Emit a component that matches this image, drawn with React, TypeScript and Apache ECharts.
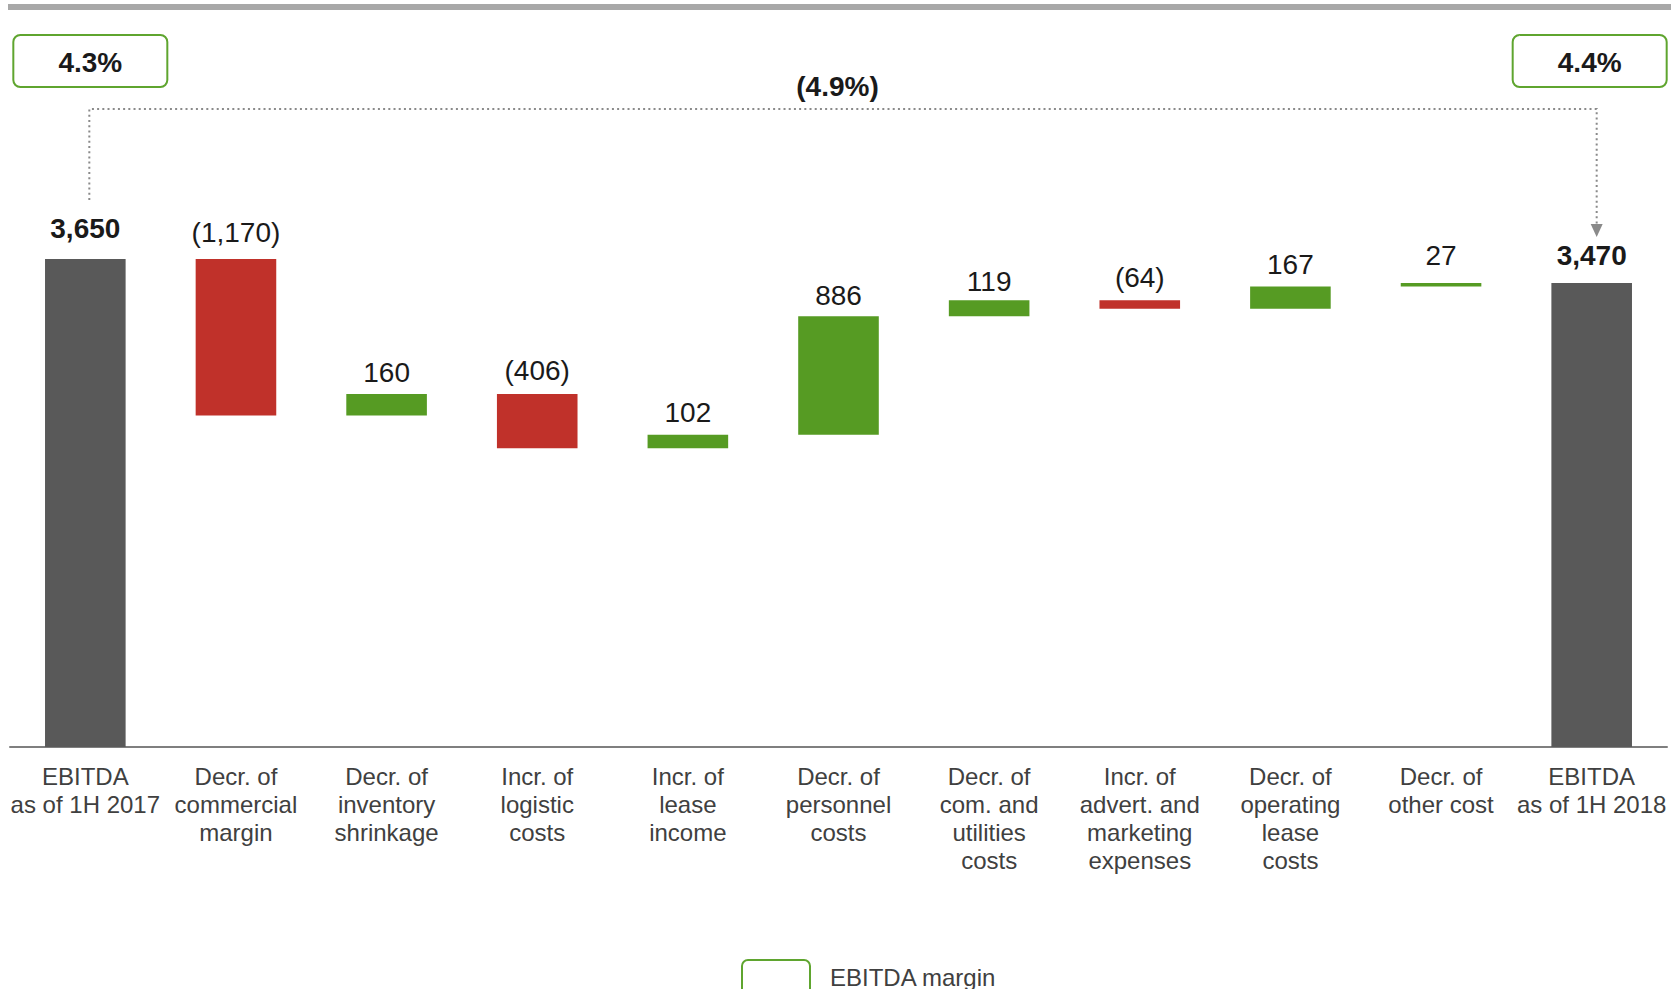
import React, { useEffect, useRef } from "react";
import * as echarts from "echarts";

const categories = [
  "EBITDA\nas of 1H 2017",
  "Decr. of\ncommercial\nmargin",
  "Decr. of\ninventory\nshrinkage",
  "Incr. of\nlogistic\ncosts",
  "Incr. of\nlease\nincome",
  "Decr. of\npersonnel\ncosts",
  "Decr. of\ncom. and\nutilities\ncosts",
  "Incr. of\nadvert. and\nmarketing\nexpenses",
  "Decr. of\noperating\nlease\ncosts",
  "Decr. of\nother cost",
  "EBITDA\nas of 1H 2018",
];
const changes = [3650, -1170, 160, -406, 102, 886, 119, -64, 167, 27, 3470];
const isTotal = [true, false, false, false, false, false, false, false, false, false, true];
const labelGaps = [17, 13, 8, 10, 8, 7, 5, 9, 8, 13, 14];
const marginStart = "4.3%";
const marginEnd = "4.4%";
const marginChange = "(4.9%)";
const legendLabel = "EBITDA margin";

const GREY = "#595959";
const RED = "#c0312a";
const GREEN = "#569b23";
const FRAME = "#5fa52f";
const FONT = "'Liberation Sans', Arial, sans-serif";

function fmt(v: number) {
  const s = Math.abs(v).toLocaleString("en-US");
  return v < 0 ? `(${s})` : s;
}

export default function App() {
  const ref = useRef<HTMLDivElement>(null);
  useEffect(() => {
    if (!ref.current) return;
    const chart = echarts.init(ref.current, null, { renderer: "svg" });
    const base: number[] = [];
    const vis: any[] = [];
    let cum = 0;
    changes.forEach((v, i) => {
      if (isTotal[i]) {
        base.push(0);
        vis.push({
          value: v,
          itemStyle: { color: GREY },
          label: { fontWeight: "bold", distance: labelGaps[i] },
        });
        cum = v;
      } else {
        const next = cum + v;
        base.push(Math.min(cum, next));
        vis.push({
          value: Math.abs(v),
          itemStyle: { color: v < 0 ? RED : GREEN },
          label: { distance: labelGaps[i] },
        });
        cum = next;
      }
    });

    chart.setOption({
      animation: false,
      textStyle: { fontFamily: FONT },
      grid: { left: 10, right: 12, top: 259, bottom: 242, containLabel: false },
      xAxis: {
        type: "category",
        data: categories,
        axisLine: { lineStyle: { color: "#7f7f7f", width: 2 } },
        axisTick: { show: false },
        axisLabel: {
          interval: 0,
          color: "#404040",
          fontSize: 24,
          lineHeight: 27.8,
          margin: 16,
          fontFamily: FONT,
        },
      },
      yAxis: { type: "value", min: 0, max: 3650, show: false, splitLine: { show: false } },
      series: [
        {
          type: "bar",
          stack: "w",
          data: base,
          itemStyle: { color: "transparent" },
          silent: true,
          barWidth: "53.5%",
        },
        {
          type: "bar",
          stack: "w",
          data: vis,
          barWidth: "53.5%",
          label: {
            show: true,
            position: "top",
            distance: 10,
            fontSize: 28,
            color: "#1a1a1a",
            fontFamily: FONT,
            formatter: (p: any) => fmt(changes[p.dataIndex]),
          },
        },
      ],
    });

    const first = chart.convertToPixel({ gridIndex: 0 }, [0, changes[0]]) as number[];
    const lastIdx = changes.length - 1;
    const last = chart.convertToPixel({ gridIndex: 0 }, [lastIdx, changes[lastIdx]]) as number[];
    const mid = chart.convertToPixel({ gridIndex: 0 }, [5, 0]) as number[];
    const lx = first[0] + 4;
    const rx = last[0] + 5;
    const lineY = 109;
    const tipY = last[1] - 46;
    const dotted = { stroke: "#8a8a8a", lineWidth: 2, lineDash: [2, 3.2] };

    chart.setOption({
      graphic: [
        { type: "rect", shape: { x: 8, y: 4, width: 1663, height: 6 }, style: { fill: "#a8a8a8" }, silent: true },
        {
          type: "rect",
          shape: { x: first[0] - 72, y: 35, width: 154, height: 52, r: 7 },
          style: { fill: "#fff", stroke: FRAME, lineWidth: 2 },
        },
        {
          type: "text",
          x: first[0] + 5,
          y: 62,
          style: { text: marginStart, font: `bold 28px ${FONT}`, fill: "#1a1a1a", align: "center", verticalAlign: "middle" },
        },
        {
          type: "rect",
          shape: { x: last[0] - 79, y: 35, width: 154, height: 52, r: 7 },
          style: { fill: "#fff", stroke: FRAME, lineWidth: 2 },
        },
        {
          type: "text",
          x: last[0] - 2,
          y: 62,
          style: { text: marginEnd, font: `bold 28px ${FONT}`, fill: "#1a1a1a", align: "center", verticalAlign: "middle" },
        },
        {
          type: "text",
          x: mid[0] - 1,
          y: 86,
          style: { text: marginChange, font: `bold 28px ${FONT}`, fill: "#1a1a1a", align: "center", verticalAlign: "middle" },
        },
        {
          type: "polyline",
          shape: { points: [[lx, first[1] - 59], [lx, lineY], [rx, lineY], [rx, tipY - 10]] },
          style: { ...dotted, fill: null },
        },
        {
          type: "polygon",
          shape: { points: [[rx - 6, tipY - 13], [rx + 6, tipY - 13], [rx, tipY]] },
          style: { fill: "#8a8a8a" },
        },
        {
          type: "rect",
          shape: { x: 742, y: 960, width: 68, height: 36, r: 6 },
          style: { fill: "#fff", stroke: FRAME, lineWidth: 2 },
        },
        {
          type: "text",
          x: 830,
          y: 977,
          style: { text: legendLabel, font: `24px ${FONT}`, fill: "#404040", align: "left", verticalAlign: "middle" },
        },
      ],
    });

    return () => chart.dispose();
  }, []);
  return (
    <div
      ref={ref}
      style={{ position: "fixed", left: 0, top: 0, width: 1679, height: 989, background: "#fff" }}
    />
  );
}
